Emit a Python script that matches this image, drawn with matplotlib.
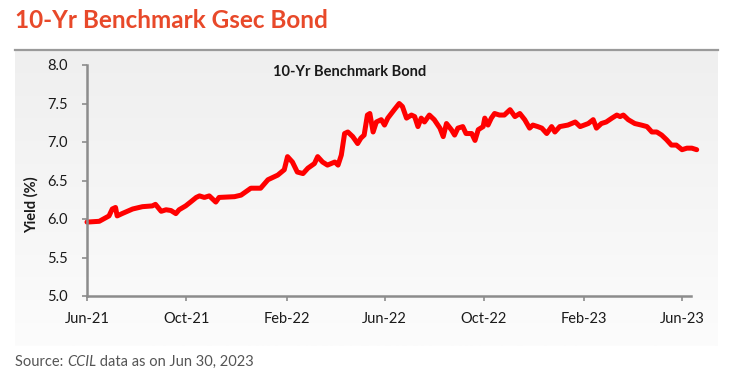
import numpy as np
import pandas as pd
import matplotlib
matplotlib.use("Agg")
import matplotlib.pyplot as plt
from matplotlib.colors import LinearSegmentedColormap

plt.rcParams["font.family"] = ["Lato", "DejaVu Sans"]

# yield readings (date, %)
dates = [
    "2021-06-01", "2021-06-16", "2021-06-28", "2021-07-02", "2021-07-06", "2021-07-08",
    "2021-07-14", "2021-07-27", "2021-08-08", "2021-08-20", "2021-08-24", "2021-08-31",
    "2021-09-06", "2021-09-12", "2021-09-18", "2021-09-22", "2021-09-30", "2021-10-06",
    "2021-10-13", "2021-10-17", "2021-10-23", "2021-10-29", "2021-11-06", "2021-11-10",
    "2021-11-29", "2021-12-07", "2021-12-19", "2021-12-31", "2022-01-09", "2022-01-21",
    "2022-01-29", "2022-02-02", "2022-02-08", "2022-02-14", "2022-02-21", "2022-02-27",
    "2022-03-07", "2022-03-11", "2022-03-17", "2022-03-23", "2022-04-01", "2022-04-05",
    "2022-04-09", "2022-04-13", "2022-04-17", "2022-04-23", "2022-04-29", "2022-05-03",
    "2022-05-07", "2022-05-11", "2022-05-14", "2022-05-18", "2022-05-22", "2022-05-28",
    "2022-06-01", "2022-06-05", "2022-06-13", "2022-06-19", "2022-06-23", "2022-06-28",
    "2022-07-04", "2022-07-08", "2022-07-12", "2022-07-16", "2022-07-20", "2022-07-26",
    "2022-08-01", "2022-08-08", "2022-08-12", "2022-08-16", "2022-08-22", "2022-08-26",
    "2022-08-30", "2022-09-05", "2022-09-09", "2022-09-16", "2022-09-20", "2022-09-24",
    "2022-09-30", "2022-10-02", "2022-10-06", "2022-10-10", "2022-10-14", "2022-10-20",
    "2022-10-26", "2022-11-02", "2022-11-08", "2022-11-14", "2022-11-20", "2022-11-26",
    "2022-11-30", "2022-12-06", "2022-12-11", "2022-12-17", "2022-12-23", "2022-12-27",
    "2023-01-02", "2023-01-12", "2023-01-21", "2023-01-27", "2023-02-06", "2023-02-12",
    "2023-02-16", "2023-02-22", "2023-02-28", "2023-03-07", "2023-03-13", "2023-03-17",
    "2023-03-21", "2023-03-27", "2023-04-04", "2023-04-12", "2023-04-19", "2023-04-25",
    "2023-05-01", "2023-05-07", "2023-05-13", "2023-05-19", "2023-05-25", "2023-06-01",
    "2023-06-07", "2023-06-13", "2023-06-19",
]
yields = [
    5.96, 5.97, 6.04, 6.13, 6.15, 6.04,
    6.07, 6.13, 6.16, 6.17, 6.19, 6.10,
    6.12, 6.11, 6.07, 6.12, 6.17, 6.22,
    6.28, 6.30, 6.28, 6.30, 6.22, 6.28,
    6.29, 6.31, 6.40, 6.40, 6.51, 6.57,
    6.64, 6.81, 6.74, 6.61, 6.59, 6.66,
    6.72, 6.81, 6.74, 6.70, 6.74, 6.70,
    6.83, 7.11, 7.13, 7.07, 6.98, 7.05,
    7.09, 7.35, 7.37, 7.13, 7.26, 7.29,
    7.22, 7.31, 7.42, 7.50, 7.46, 7.31,
    7.35, 7.33, 7.20, 7.31, 7.26, 7.35,
    7.29, 7.18, 7.07, 7.24, 7.16, 7.09,
    7.18, 7.20, 7.11, 7.11, 7.02, 7.16,
    7.20, 7.31, 7.22, 7.31, 7.37, 7.35,
    7.35, 7.42, 7.33, 7.37, 7.29, 7.18,
    7.22, 7.20, 7.18, 7.11, 7.20, 7.13,
    7.20, 7.22, 7.26, 7.20, 7.24, 7.29,
    7.18, 7.24, 7.26, 7.31, 7.35, 7.33,
    7.35, 7.29, 7.24, 7.22, 7.20, 7.13,
    7.13, 7.09, 7.03, 6.96, 6.96, 6.90,
    6.92, 6.92, 6.90,
]
tick_dates = ["2021-06-01", "2021-10-01", "2022-02-01", "2022-06-01",
              "2022-10-01", "2023-02-01", "2023-06-01"]
tick_labels = ["Jun-21", "Oct-21", "Feb-22", "Jun-22", "Oct-22", "Feb-23", "Jun-23"]
y_ticks = [5.0, 5.5, 6.0, 6.5, 7.0, 7.5, 8.0]

W, H = 740, 386
fig = plt.figure(figsize=(W / 100, H / 100), dpi=100)

# grey gradient panel behind the chart
bg = fig.add_axes([0, 0, 1, 1])
bg.axis("off")
grad = np.linspace(0, 1, 256).reshape(-1, 1)
cmap = LinearSegmentedColormap.from_list("g", ["#efefef", "#fcfcfc"])
bg.imshow(grad, extent=[15, 718, 346, 50], cmap=cmap, aspect="auto", zorder=0)
bg.plot([15, 718], [50, 50], color="#9a9a9a", lw=1.6)
bg.set_xlim(0, W)
bg.set_ylim(H, 0)

fig.text(15 / W, 1 - 21 / H, "10-Yr Benchmark Gsec Bond", color="#e8492a",
         fontsize=17.5, fontweight="bold", va="center", ha="left")

src_kw = dict(color="#555555", fontsize=10.5, va="center")
t1 = bg.text(15, 362, "Source: ", **src_kw)
t2 = bg.annotate("CCIL", xy=(1, 0.5), xycoords=t1, style="italic", **src_kw)
bg.annotate(" data as on Jun 30, 2023", xy=(1, 0.5), xycoords=t2, **src_kw)

ax = fig.add_axes([87 / W, 1 - 296 / H, (691 - 87) / W, (296 - 65) / H])
ax.patch.set_alpha(0)
x = pd.to_datetime(dates)
ax.plot(x, yields, color="#ff0000", lw=3.6, solid_joinstyle="round",
        solid_capstyle="round", clip_on=False)

ax.set_xlim(pd.Timestamp("2021-06-01"), pd.Timestamp("2023-06-12"))
ax.set_ylim(5.0, 8.0)
ax.set_xticks(pd.to_datetime(tick_dates))
ax.set_xticklabels(tick_labels)
ax.set_yticks(y_ticks)
ax.set_yticklabels([f"{v:.1f}" for v in y_ticks])
for s in ["top", "right"]:
    ax.spines[s].set_visible(False)
for s in ["left", "bottom"]:
    ax.spines[s].set_color("#8c8c8c")
    ax.spines[s].set_linewidth(1.8)
ax.tick_params(axis="both", colors="#8c8c8c", labelcolor="#1a1a1a", labelsize=10.5,
               width=1.2, length=3.5)
ax.tick_params(axis="x", pad=8)
ax.tick_params(axis="y", pad=10)
ax.set_ylabel("Yield (%)", fontsize=10.5, fontweight="bold", color="#1a1a1a")
ax.yaxis.set_label_coords(-0.08, 0.394)
ax.text(0.434, 0.97, "10-Yr Benchmark Bond", transform=ax.transAxes, ha="center",
        va="center", fontsize=10.5, fontweight="bold", color="#1a1a1a")

fig.savefig("out.png", dpi=100)
